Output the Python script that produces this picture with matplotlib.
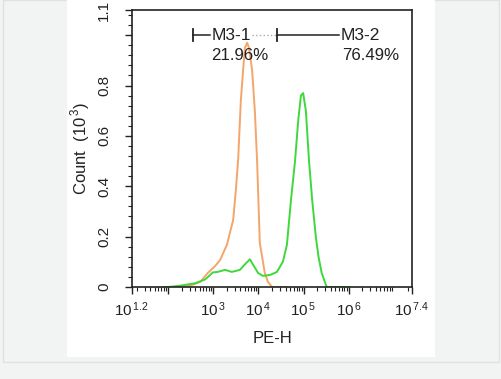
import matplotlib
matplotlib.use("Agg")
import matplotlib.pyplot as plt
import numpy as np
from matplotlib.patches import Rectangle
from matplotlib.ticker import FixedLocator, NullFormatter

plt.rcParams['font.family'] = ['Liberation Sans', 'DejaVu Sans']
plt.rcParams['mathtext.fontset'] = 'custom'
plt.rcParams['mathtext.rm'] = 'Liberation Sans'

# Histogram traces (PE-H exponent, count in 10^3)
orange_exp = [2.00, 2.30, 2.48, 2.71, 2.88, 3.04, 3.15, 3.30, 3.44, 3.50, 3.55,
              3.61, 3.66, 3.70, 3.75, 3.79, 3.86, 3.92, 3.97, 4.03, 4.10, 4.14,
              4.21, 4.30, 4.60]
orange_cnt = [0.0, 0.0, 0.005, 0.02, 0.056, 0.083, 0.107, 0.167, 0.266, 0.385, 0.504,
              0.74, 0.86, 0.95, 0.97, 0.95, 0.86, 0.70, 0.50, 0.175, 0.10, 0.056,
              0.02, 0.0, 0.0]

green_exp = [1.90, 2.00, 2.26, 2.60, 2.82, 2.93, 2.99, 3.10, 3.26, 3.41, 3.59, 3.70,
             3.81, 3.90, 3.99, 4.10, 4.26, 4.41, 4.54, 4.63, 4.72, 4.81, 4.88,
             4.94, 4.99, 5.05, 5.12, 5.19, 5.27, 5.33, 5.40, 5.51, 5.60, 6.00]
green_cnt = [0.0, 0.0, 0.005, 0.015, 0.03, 0.048, 0.058, 0.06, 0.068, 0.06, 0.068, 0.09,
             0.11, 0.083, 0.056, 0.044, 0.048, 0.06, 0.10, 0.167, 0.345, 0.50, 0.66,
             0.76, 0.77, 0.70, 0.50, 0.345, 0.20, 0.12, 0.056, 0.0, 0.0, 0.0]

# Gates
gate1 = (2.55, 4.41)
gate2 = (4.41, 5.78)
gate_labels = ["M3-1", "M3-2"]
gate_pcts = ["21.96%", "76.49%"]

x_major = [1.2, 2, 3, 4, 5, 6, 7.4]
x_labels = ["1.2", "", "3", "4", "5", "6", "7.4"]
y_major = [0, 0.2, 0.4, 0.6, 0.8, 1.0, 1.1]
y_labels = ["0", "0.2", "0.4", "0.6", "0.8", "", "1.1"]

INK = '#222222'


def draw_background(fig):
    bg = '#f2f4f4'
    fig.patch.set_facecolor(bg)
    fig.patches.append(Rectangle((67 / 502, 1 - 357 / 379), (435 - 67) / 502, 357 / 379,
                                 transform=fig.transFigure, facecolor='white',
                                 edgecolor='none', zorder=-10))
    fig.patches.append(Rectangle((3 / 502, 1 - 362 / 379), 496 / 502, 362 / 379,
                                 transform=fig.transFigure, facecolor='none',
                                 edgecolor='#dfe2e2', linewidth=1, zorder=-11))


def main():
    fig = plt.figure(figsize=(5.02, 3.79), dpi=100)
    draw_background(fig)
    ax = fig.add_axes([132 / 502, 1 - 287 / 379, 280 / 502, 277 / 379])

    ax.plot(10 ** np.array(orange_exp), orange_cnt, color='#f4a56a', lw=1.4)
    ax.plot(10 ** np.array(green_exp), green_cnt, color='#3fd83a', lw=1.4)

    ax.set_xscale('log')
    ax.set_xlim(10 ** 1.2, 10 ** 7.4)
    ax.set_ylim(0, 1.1)

    # gate bars
    g1a, g1b = 10 ** gate1[0], 10 ** gate1[1]
    g2b = 10 ** gate2[1]
    ax.plot([g1a, 10 ** 2.92], [1.0, 1.0], color=INK, lw=1.1)
    ax.plot([10 ** 3.86, g1b], [1.0, 1.0], color='#aaaaaa', lw=1.0, ls=':')
    ax.plot([g1b, g2b], [1.0, 1.0], color=INK, lw=1.1)
    for g in (g1a, g1b):
        ax.plot([g, g], [0.975, 1.025], color=INK, lw=1.3)
    ax.text(10 ** 2.96, 1.0, gate_labels[0], fontsize=12.5, va='center', ha='left', color=INK)
    ax.text(10 ** 5.83, 1.0, gate_labels[1], fontsize=12.5, va='center', ha='left', color=INK)
    ax.text(10 ** 2.96, 0.92, gate_pcts[0], fontsize=12.2, va='center', ha='left', color=INK)
    ax.text(10 ** 5.86, 0.92, gate_pcts[1], fontsize=12.2, va='center', ha='left', color=INK)

    # ticks
    ax.xaxis.set_major_locator(FixedLocator([10 ** v for v in x_major]))
    ax.set_xticklabels([r'$\mathregular{10^{\,%s}}$' % s if s else '' for s in x_labels])
    minors = [m * 10 ** d for d in range(1, 8) for m in range(2, 10)]
    minors = [v for v in minors if 10 ** 1.2 < v < 10 ** 7.4]
    ax.xaxis.set_minor_locator(FixedLocator(minors))
    ax.xaxis.set_minor_formatter(NullFormatter())
    ax.set_yticks(y_major)
    ax.set_yticklabels(y_labels, rotation=90, va='center')
    ax.set_yticks(np.arange(0, 1.1, 0.04), minor=True)
    ax.tick_params(which='major', direction='out', length=5, width=1, colors=INK,
                   labelsize=11)
    ax.tick_params(axis='x', which='major', pad=5)
    ax.tick_params(axis='y', which='major', pad=10)
    ax.tick_params(which='minor', direction='out', length=3, width=0.8, colors=INK)
    for s in ax.spines.values():
        s.set_linewidth(1.2)
        s.set_color(INK)

    ax.set_xlabel('PE-H', fontsize=12, color=INK, labelpad=8)
    ax.set_ylabel(r'Count  (10$^{\,3}$)', fontsize=12, color=INK)
    ax.yaxis.set_label_coords(-0.143, 0.5)

    fig.savefig('out.png', dpi=100, facecolor=fig.get_facecolor())


if __name__ == "__main__":
    main()
